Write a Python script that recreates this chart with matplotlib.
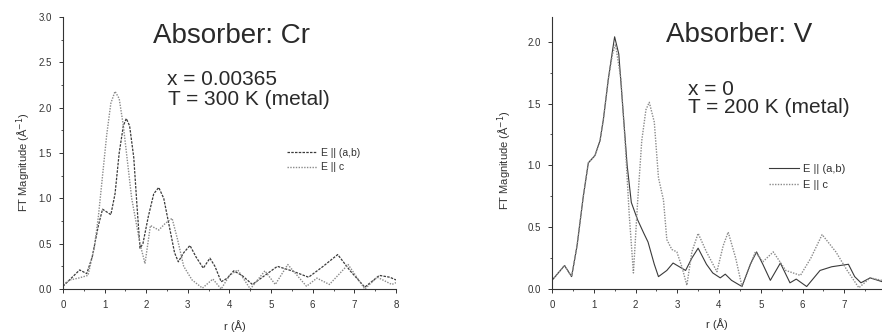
import matplotlib
matplotlib.use("Agg")
import matplotlib.pyplot as plt
from matplotlib.ticker import MultipleLocator

plt.rcParams['font.family'] = ['Liberation Sans', 'DejaVu Sans']

# ---- Left panel: absorber Cr ----
cr_ab_r = [0, 0.2, 0.4, 0.57, 0.7, 0.85, 0.95, 1.05, 1.15, 1.25, 1.35, 1.45, 1.52, 1.6, 1.7,
           1.78, 1.85, 1.92, 2.05, 2.18, 2.3, 2.42, 2.55, 2.68, 2.77, 2.9, 3.05, 3.2, 3.37,
           3.53, 3.65, 3.8, 3.95, 4.1, 4.3, 4.55, 4.85, 5.15, 5.5, 5.9, 6.25, 6.6, 6.9,
           7.25, 7.6, 7.85, 8.0]
cr_ab_v = [0.03, 0.12, 0.21, 0.17, 0.35, 0.7, 0.88, 0.85, 0.82, 1.05, 1.5, 1.8, 1.88, 1.8, 1.45,
           0.9, 0.45, 0.5, 0.8, 1.05, 1.12, 1.0, 0.7, 0.4, 0.3, 0.4, 0.48, 0.35, 0.23,
           0.34, 0.25, 0.08, 0.12, 0.2, 0.15, 0.05, 0.15, 0.25, 0.2, 0.13, 0.25, 0.38, 0.2,
           0.02, 0.15, 0.13, 0.1]
cr_c_r = [0, 0.17, 0.37, 0.6, 0.75, 0.85, 0.95, 1.05, 1.15, 1.25, 1.35, 1.45, 1.55, 1.65, 1.75,
          1.85, 1.97, 2.1, 2.3, 2.45, 2.62, 2.75, 2.9, 3.1, 3.35, 3.6, 3.8, 4.0, 4.2, 4.5,
          4.85, 5.1, 5.4, 5.85, 6.1, 6.4, 6.85, 7.25, 7.55, 7.9, 8.0]
cr_c_v = [0.05, 0.1, 0.12, 0.15, 0.45, 0.8, 1.25, 1.7, 2.05, 2.18, 2.1, 1.8, 1.4, 1.0, 0.75,
          0.5, 0.28, 0.7, 0.65, 0.72, 0.78, 0.55, 0.25, 0.1, 0.01, 0.11, 0.0, 0.15, 0.21, 0.0,
          0.2, 0.05, 0.27, 0.03, 0.12, 0.05, 0.27, 0.0, 0.13, 0.05, 0.07]

# ---- Right panel: absorber V ----
v_ab_r = [0, 0.3, 0.47, 0.6, 0.75, 0.87, 1.03, 1.15, 1.23, 1.35, 1.45, 1.5, 1.6, 1.7, 1.8,
          1.9, 2.05, 2.2, 2.3, 2.45, 2.55, 2.75, 2.9, 3.05, 3.2, 3.35, 3.5, 3.7, 3.85, 4.03,
          4.15, 4.3, 4.55, 4.75, 4.9, 5.05, 5.23, 5.47, 5.7, 5.85, 6.1, 6.42, 6.7, 6.9,
          7.1, 7.25, 7.4, 7.62, 7.9]
v_ab_v = [0.07, 0.19, 0.1, 0.35, 0.75, 1.02, 1.08, 1.2, 1.37, 1.7, 1.93, 2.04, 1.9, 1.45, 1.0,
          0.7, 0.56, 0.45, 0.38, 0.2, 0.1, 0.15, 0.21, 0.18, 0.15, 0.25, 0.33, 0.2, 0.13, 0.09,
          0.12, 0.07, 0.02, 0.2, 0.3, 0.2, 0.07, 0.21, 0.05, 0.08, 0.02, 0.15, 0.18, 0.19,
          0.2, 0.1, 0.05, 0.09, 0.06]
v_c_r = [0, 0.3, 0.47, 0.6, 0.75, 0.87, 1.03, 1.15, 1.23, 1.35, 1.45, 1.52, 1.65, 1.75, 1.85,
         1.95, 2.05, 2.15, 2.25, 2.33, 2.45, 2.55, 2.67, 2.75, 2.87, 2.99, 3.11, 3.23, 3.35,
         3.5, 3.7, 3.95, 4.1, 4.22, 4.4, 4.55, 4.87, 5.05, 5.3, 5.6, 5.95, 6.2, 6.47, 6.8,
         7.07, 7.35, 7.62, 7.9]
v_c_v = [0.07, 0.19, 0.1, 0.35, 0.75, 1.02, 1.08, 1.2, 1.37, 1.7, 1.9, 1.98, 1.7, 1.2, 0.6,
         0.13, 0.7, 1.2, 1.45, 1.51, 1.35, 0.9, 0.72, 0.4, 0.32, 0.3, 0.18, 0.03, 0.3,
         0.45, 0.3, 0.14, 0.35, 0.46, 0.25, 0.02, 0.3, 0.22, 0.3, 0.15, 0.11, 0.25, 0.44, 0.3,
         0.15, 0.01, 0.09, 0.07]

legend_labels = ["E || (a,b)", "E || c"]
x_ticks_left = [0, 1, 2, 3, 4, 5, 6, 7, 8]
x_ticks_right = [0, 1, 2, 3, 4, 5, 6, 7]

W, H = 882, 335
fig = plt.figure(figsize=(W / 100, H / 100), dpi=100)

def ax_rect(x0, x1, ytop, ybot):
    return [x0 / W, 1 - ybot / H, (x1 - x0) / W, (ybot - ytop) / H]

axL = fig.add_axes(ax_rect(63, 396, 17, 289))
axR = fig.add_axes(ax_rect(552, 886, 17, 289))

dark = '#3a3a3a'
grey = '#8a8a8a'
txt = '#333333'

axL.plot(cr_ab_r, cr_ab_v, color=dark, lw=0.9, ls=(0, (2, 1)), label=legend_labels[0])
axL.plot(cr_c_r, cr_c_v, color=grey, lw=1.0, ls=(0, (1, 1)), label=legend_labels[1])
axR.plot(v_ab_r, v_ab_v, color=dark, lw=0.8, ls='-', label=legend_labels[0])
axR.plot(v_c_r, v_c_v, color=grey, lw=1.0, ls=(0, (1, 1)), label=legend_labels[1])

for ax, ymax, xt in ((axL, 3.0, x_ticks_left), (axR, 2.2, x_ticks_right)):
    ax.set_xlim(0, 8)
    ax.set_ylim(0, ymax)
    ax.spines['top'].set_visible(False)
    ax.spines['right'].set_visible(False)
    for s in ('left', 'bottom'):
        ax.spines[s].set_linewidth(0.8)
        ax.spines[s].set_color(txt)
    ax.set_xticks(xt)
    ax.xaxis.set_minor_locator(MultipleLocator(0.5))
    ax.yaxis.set_major_locator(MultipleLocator(0.5))
    ax.yaxis.set_minor_locator(MultipleLocator(0.25))
    ax.tick_params(which='major', direction='out', length=3, width=0.7, labelsize=7,
                   colors=txt)
    ax.tick_params(axis='y', which='major', pad=5)
    ax.tick_params(axis='x', which='major', pad=5)
    ax.tick_params(which='minor', direction='out', length=1.5, width=0.6, colors=txt)
    ax.yaxis.set_major_formatter(plt.FuncFormatter(lambda v, p: f"{v:.1f}"))
    ax.set_ylabel("FT Magnitude (Å$^{-1}$)", fontsize=8, color=txt)
    ax.set_xlabel("r (Å)", fontsize=8, color=txt, va='top')

axR.set_yticks([0, 0.5, 1.0, 1.5, 2.0])
axL.yaxis.set_label_coords(-0.09, 0.467)
axR.yaxis.set_label_coords(-0.114, 0.474)
axL.xaxis.set_label_coords(0.517, -0.114)
axR.xaxis.set_label_coords(0.495, -0.107)

legL = axL.legend(loc='upper left', bbox_to_anchor=(0.673, 0.52), frameon=False,
                  fontsize=7.5, handlelength=2.9, handletextpad=0.35, borderpad=0,
                  borderaxespad=0, labelspacing=0.45)
legR = axR.legend(loc='upper left', bbox_to_anchor=(0.65, 0.46), frameon=False,
                  fontsize=8, handlelength=2.7, handletextpad=0.35, borderpad=0,
                  borderaxespad=0, labelspacing=0.55)
for leg in (legL, legR):
    for t in leg.get_texts():
        t.set_color(txt)

def ftext(x, y, s, size):
    fig.text(x / W, 1 - y / H, s, fontsize=size, ha='left', va='baseline', color='#2a2a2a')

ftext(153, 43, "Absorber: Cr", 20)
ftext(167, 85, "x = 0.00365", 15)
ftext(168, 105, "T = 300 K (metal)", 15)
ftext(666, 42, "Absorber: V", 20)
ftext(688, 95, "x = 0", 15)
ftext(688, 113, "T = 200 K (metal)", 15)

fig.savefig("out.png", dpi=100)
